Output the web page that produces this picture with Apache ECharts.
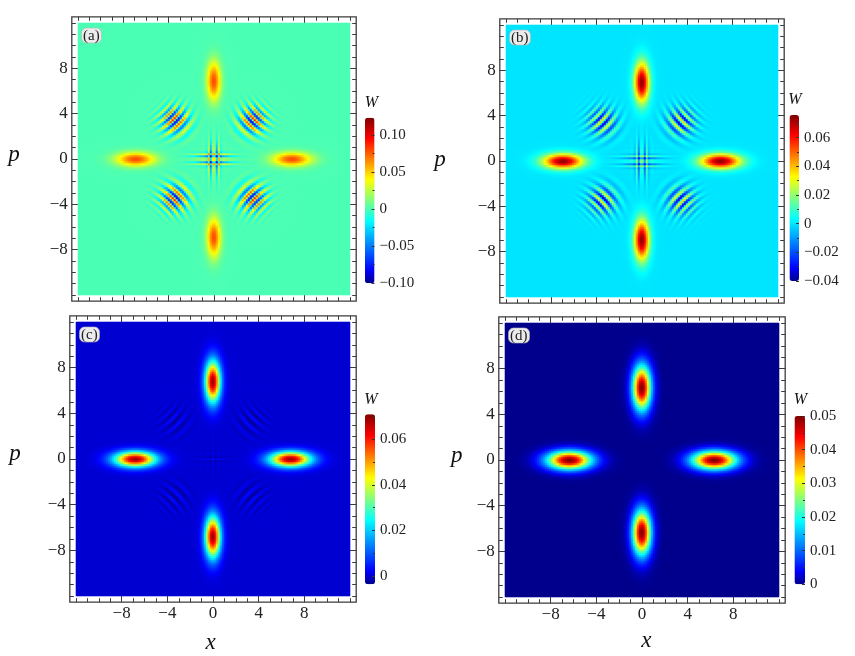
<!DOCTYPE html>
<html><head><meta charset="utf-8">
<script src="https://cdn.jsdelivr.net/npm/echarts@6/dist/echarts.min.js"></script>
<style>html,body{margin:0;padding:0;background:#fff}#c{width:855px;height:656px}</style>
</head><body><div id="c"></div>
<script>
// ---------------- data ----------------
const panelLabels = ['(a)', '(b)', '(c)', '(d)'];
const axisRange = [-12, 12];
const majorTicks = [-8, -4, 0, 4, 8];
const minorTicks = [-12,-11,-10,-9,-8,-7,-6,-5,-4,-3,-2,-1,0,1,2,3,4,5,6,7,8,9,10,11,12];
// four lobes at (±d,0), (0,±d)
const blobDist = [6.9, 6.95, 6.8, 6.35];
const blobSigRadial = [1.2, 1.23, 1.27, 1.38];
const blobSigTangential = [0.42, 0.45, 0.47, 0.57];
const blobPeak = [0.079, 0.074, 0.069, 0.050];
// widths of the pure lobes that build the interference fringes
const fringeSigRadial = [1.2, 1.2, 1.2, 1.2];
const fringeSigTangential = [0.417, 0.417, 0.417, 0.417];
// visibility of fringes between neighbouring lobes and between opposite lobes
const adjFringe = [0.72, 0.30, 0.03, 0];
const oppFringe = [0.39, 0.15, 0.01, 0];
// colour-bar ranges and ticks
const wMin = [-0.10, -0.04, -0.0036, 0];
const wMax = [0.123, 0.0758, 0.071, 0.05];
const cbTicks = [
  [-0.10, -0.05, 0, 0.05, 0.10],
  [-0.04, -0.02, 0, 0.02, 0.04, 0.06],
  [0, 0.02, 0.04, 0.06],
  [0, 0.01, 0.02, 0.03, 0.04, 0.05]
];
const cbMinorTicks = [
  [-0.075, -0.025, 0.025, 0.075],
  [-0.03, -0.01, 0.01, 0.03, 0.05, 0.07],
  [0.01, 0.03, 0.05, 0.07],
  [0.005, 0.015, 0.025, 0.035, 0.045]
];

// ---------------- layout / style ----------------
const layout = [
  {hx: 78, hy: 23, hs: 272, cells: 136, cbx: 365, cby: 117.7, cbw: 9.5, cbh: 165.6, showX: false,
   pl: [14, 155], wl: [371.5, 102.5], xl: null},
  {hx: 506, hy: 25, hs: 272, cells: 136, cbx: 789.5, cby: 115, cbw: 9.5, cbh: 166, showX: false,
   pl: [440, 160], wl: [795, 99.5], xl: null},
  {hx: 76, hy: 322, hs: 274, cells: 137, cbx: 365, cby: 414.3, cbw: 10, cbh: 170, showX: true,
   pl: [15, 454], wl: [371, 399.5], xl: [210.7, 643]},
  {hx: 505, hy: 323, hs: 274, cells: 137, cbx: 794.5, cby: 416, cbw: 10.5, cbh: 168.3, showX: true,
   pl: [456.7, 456.4], wl: [800.5, 399.5], xl: [646.3, 641.3]}
];
const PAD = 6.2;
const SERIF = "'Liberation Serif','DejaVu Serif',serif";
const FRAME = '#3c3c3c';
const colorStops = [
  [0, [0, 0, 140]], [0.08, [0, 0, 255]], [0.375, [0, 255, 255]], [0.5, [128, 255, 128]],
  [0.625, [255, 255, 0]], [0.875, [255, 0, 0]], [1, [128, 0, 0]]
];
function palette(n) {
  const out = [];
  for (let i = 0; i < n; i++) {
    const t = i / (n - 1);
    let k = 0;
    while (k < colorStops.length - 2 && t > colorStops[k + 1][0]) k++;
    const [t0, c0] = colorStops[k], [t1, c1] = colorStops[k + 1];
    const u = (t - t0) / (t1 - t0);
    const c = c0.map((v, m) => Math.round(v + (c1[m] - v) * u));
    out.push('rgb(' + c.join(',') + ')');
  }
  return out;
}
const PALETTE = palette(97);

// ---------------- Wigner-function field from the read parameters ----------------
const pairs = [[0, 1, 'adj'], [1, 2, 'adj'], [2, 3, 'adj'], [0, 3, 'adj'], [0, 2, 'opp'], [1, 3, 'opp']];
function components(i) {
  const d = blobDist[i];
  const sr2 = fringeSigRadial[i] ** 2, st2 = fringeSigTangential[i] ** 2;
  const defs = [[d, 0, sr2], [0, d, st2], [-d, 0, sr2], [0, -d, st2]];
  return defs.map(([x0, p0, sx2]) => ({
    A: 1 / (4 * sx2), Br: x0 / (2 * sx2), Bi: p0, C: -x0 * x0 / (4 * sx2),
    N: Math.pow(2 * Math.PI * sx2, -0.25)
  }));
}
function wigner(i, comps, x, p) {
  const d = blobDist[i], sr = blobSigRadial[i], st = blobSigTangential[i], pk = blobPeak[i];
  const r2 = 2 * sr * sr, t2 = 2 * st * st;
  let w = pk * (Math.exp(-((x - d) ** 2) / r2 - p * p / t2) + Math.exp(-((x + d) ** 2) / r2 - p * p / t2) +
                Math.exp(-((p - d) ** 2) / r2 - x * x / t2) + Math.exp(-((p + d) ** 2) / r2 - x * x / t2));
  for (const [j, k, type] of pairs) {
    const f = type === 'adj' ? adjFringe[i] : oppFringe[i];
    if (!f) continue;
    const cj = comps[j], ck = comps[k];
    const a = cj.A + ck.A;
    const br = 2 * x * (ck.A - cj.A) + cj.Br - ck.Br;
    const bi = 2 * p - cj.Bi - ck.Bi;
    const cr = -a * x * x + (cj.Br + ck.Br) * x + cj.C + ck.C;
    const ci = (ck.Bi - cj.Bi) * x;
    const er = (br * br - bi * bi) / (4 * a) + cr;
    const ei = (2 * br * bi) / (4 * a) + ci;
    const pref = cj.N * ck.N * Math.sqrt(Math.PI / a) / (4 * Math.PI);
    w += f * 2 * pref * Math.exp(er) * Math.cos(ei);
  }
  return w;
}
function cellCats(n) {
  const step = (axisRange[1] - axisRange[0]) / n;
  return Array.from({length: n}, (_, k) => (axisRange[0] + (k + 0.5) * step).toFixed(4));
}
function fieldData(i, cats) {
  const comps = components(i);
  const data = [];
  for (let j = 0; j < cats.length; j++) {
    const p = +cats[j];
    for (let k = 0; k < cats.length; k++) data.push([k, j, wigner(i, comps, +cats[k], p)]);
  }
  return data;
}

// ---------------- option ----------------
const fmtAxis = v => (v < 0 ? '\u2212' + (-v) : '' + v);
const fmtCb = v => (Math.abs(v) < 1e-12 ? '0' : (v < 0 ? '\u2212' : '') + Math.abs(v).toFixed(2));
const grid = [], xAxis = [], yAxis = [], series = [], visualMap = [], title = [], graphic = [];

layout.forEach((L, i) => {
  const ext = axisRange[1] + PAD / (L.hs / (axisRange[1] - axisRange[0]));
  const cats = cellCats(L.cells);
  const gHeat = grid.length;
  grid.push({left: L.hx, top: L.hy, width: L.hs, height: L.hs, containLabel: false});
  const gFrame = grid.length;
  grid.push({left: L.hx - PAD, top: L.hy - PAD, width: L.hs + 2 * PAD, height: L.hs + 2 * PAD,
             show: true, borderColor: FRAME, borderWidth: 1.3, backgroundColor: 'transparent'});
  const gCb = grid.length;
  grid.push({left: L.cbx, top: L.cby, width: L.cbw, height: L.cbh});

  const hx = xAxis.length;
  xAxis.push({type: 'category', gridIndex: gHeat, data: cats, show: false});
  const hy = yAxis.length;
  yAxis.push({type: 'category', gridIndex: gHeat, data: cats, show: false});

  const frameAxis = (pos, major, labels) => ({
    type: 'value', gridIndex: gFrame, position: pos, min: -ext, max: ext,
    axisLine: {show: false, onZero: false}, splitLine: {show: false},
    axisTick: {show: true, inside: true, length: major ? 7 : 4,
               customValues: major ? majorTicks : minorTicks, lineStyle: {color: FRAME, width: 1}},
    axisLabel: labels ? {show: true, customValues: majorTicks, formatter: fmtAxis, margin: pos === 'left' ? 4 : 3,
                         fontFamily: SERIF, fontSize: 17, color: '#222'} : {show: false}
  });
  xAxis.push(frameAxis('bottom', true, L.showX), frameAxis('bottom', false, false),
             frameAxis('top', true, false), frameAxis('top', false, false));
  yAxis.push(frameAxis('left', true, true), frameAxis('left', false, false),
             frameAxis('right', true, false), frameAxis('right', false, false));

  xAxis.push({type: 'value', gridIndex: gCb, show: false, min: 0, max: 1, axisLine: {onZero: false}});
  const cbAxis = (ticks, len, labels) => ({
    type: 'value', gridIndex: gCb, position: 'right', min: wMin[i], max: wMax[i], z: 20,
    axisLine: {show: false, onZero: false}, splitLine: {show: false},
    axisTick: {show: true, inside: true, length: len, customValues: ticks,
               lineStyle: {color: '#333', width: 1}},
    axisLabel: labels ? {show: true, customValues: ticks, formatter: fmtCb, margin: 5,
                         fontFamily: SERIF, fontSize: 15, color: '#222'} : {show: false}
  });
  yAxis.push(cbAxis(cbTicks[i], 3, true), cbAxis(cbMinorTicks[i], 2, false));

  series.push({type: 'heatmap', name: panelLabels[i], xAxisIndex: hx, yAxisIndex: hy,
               data: fieldData(i, cats), progressive: 0, silent: true, animation: false,
               emphasis: {disabled: true}});
  visualMap.push({type: 'continuous', seriesIndex: i, min: wMin[i], max: wMax[i],
                  calculable: false, hoverLink: false, show: true, orient: 'vertical', z: 4,
                  left: L.cbx, top: L.cby, itemWidth: L.cbw, itemHeight: L.cbh, padding: 0,
                  inRange: {color: PALETTE}});

  title.push({text: panelLabels[i], left: L.hx + 3, top: L.hy + 4.5, padding: [1, 2, 0, 2],
              backgroundColor: '#ececec', borderColor: '#b5b5b5', borderWidth: 0.6, borderRadius: 5,
              textStyle: {fontFamily: SERIF, fontSize: 15, fontWeight: 'normal', color: '#222'}});

  const txt = (pos, s, size) => ({type: 'text', x: pos[0], y: pos[1], silent: true,
    style: {text: s, font: 'italic ' + size + 'px ' + SERIF, fill: '#111',
            textAlign: 'center', textVerticalAlign: 'middle', align: 'center', verticalAlign: 'middle'}});
  graphic.push(txt(L.pl, 'p', 23), txt(L.wl, 'W', 16));
  if (L.xl) graphic.push(txt(L.xl, 'x', 23));
});

const chart = echarts.init(document.getElementById('c'), null, {renderer: 'canvas'});
chart.setOption({animation: false, backgroundColor: '#fff', grid, xAxis, yAxis, series, visualMap, title, graphic});
</script></body></html>
